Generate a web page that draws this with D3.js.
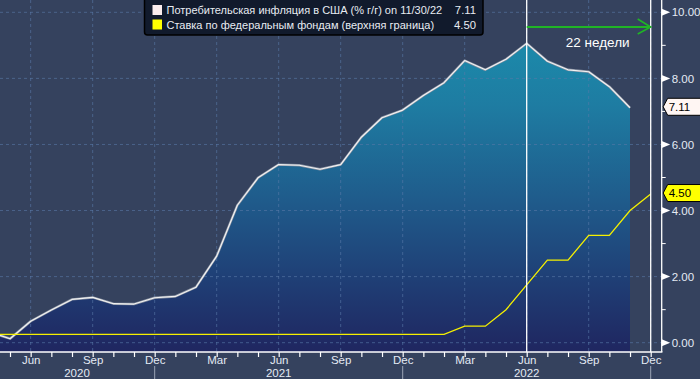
<!DOCTYPE html>
<html><head><meta charset="utf-8">
<script src="https://cdn.jsdelivr.net/npm/d3@7/dist/d3.min.js"></script>
<style>
html,body{margin:0;padding:0;background:#35425e;}
svg{display:block;font-family:"Liberation Sans",Arial,sans-serif;}
</style></head>
<body>
<svg id="c" width="700" height="379"></svg>
<script>
// ---- data ----
// month labels (month-end observations), Apr 2020 .. Dec 2022
const months = ["2020-04","2020-05","2020-06","2020-07","2020-08","2020-09","2020-10","2020-11","2020-12",
  "2021-01","2021-02","2021-03","2021-04","2021-05","2021-06","2021-07","2021-08","2021-09","2021-10","2021-11","2021-12",
  "2022-01","2022-02","2022-03","2022-04","2022-05","2022-06","2022-07","2022-08","2022-09","2022-10","2022-11","2022-12"];
// US CPI YoY %, Apr 2020 .. Nov 2022
const cpi = [0.33,0.12,0.65,0.99,1.31,1.37,1.18,1.17,1.36,
  1.40,1.68,2.62,4.16,4.99,5.39,5.37,5.25,5.39,6.22,6.81,7.04,
  7.48,7.87,8.54,8.26,8.58,9.06,8.52,8.26,8.20,7.75,7.11];
// Fed funds upper bound, Apr 2020 .. Dec 2022
const fed = [0.25,0.25,0.25,0.25,0.25,0.25,0.25,0.25,0.25,
  0.25,0.25,0.25,0.25,0.25,0.25,0.25,0.25,0.25,0.25,0.25,0.25,
  0.25,0.25,0.50,0.50,1.00,1.75,2.50,2.50,3.25,3.25,4.00,4.50];
const yTicks = [0,2,4,6,8,10];
const yMinor = [1,3,5,7,9];
const monthNames = ["Jan","Feb","Mar","Apr","May","Jun","Jul","Aug","Sep","Oct","Nov","Dec"];
const quarterLabels = ["Mar","Jun","Sep","Dec"];
const years = ["2020","2021","2022"];
const legendItems = [
  {label:"Потребительская инфляция в США (% г/г) on 11/30/22", value:"7.11", color:"#fbeded"},
  {label:"Ставка по федеральным фондам (верхняя граница)", value:"4.50", color:"#ffff00"}
];
const markDate = "2022-06", endDate = "2022-12";
const arrowText = "22 недели";

// ---- layout ----
const W=700,H=379, L=0, R=661.7, T=0, B=352;
const mi = s => { const [yy,mm]=s.split("-").map(Number); return (yy-2020)*12 + (mm-1); };
const x = d3.scaleLinear().domain([mi("2020-06"), mi("2022-12")]).range([30.67, 650.7]);
const y = d3.scaleLinear().domain([0,10]).range([342.7,12.3]);

const svg = d3.select("#c");
const defs = svg.append("defs");
const g = defs.append("linearGradient").attr("id","ag").attr("gradientUnits","userSpaceOnUse")
  .attr("x1",0).attr("y1",0).attr("x2",0).attr("y2",B);
[[0,"#1a93b0"],[0.3,"#1e7ca2"],[0.57,"#1f5b8b"],[0.8,"#1f3e75"],[1,"#1f2660"]].forEach(([o,c])=>g.append("stop").attr("offset",o).attr("stop-color",c));
defs.append("clipPath").attr("id","pc").append("rect").attr("x",L).attr("y",T).attr("width",R-L).attr("height",B-T);

svg.append("rect").attr("width",W).attr("height",H).attr("fill","#35425e");

const plot = svg.append("g").attr("clip-path","url(#pc)");
const cpiData = cpi.map((v,i)=>({m:mi(months[i]), v}));
const fedData = fed.map((v,i)=>({m:mi(months[i]), v}));

plot.append("path").datum(cpiData)
  .attr("d", d3.area().x(d=>x(d.m)).y0(B).y1(d=>y(d.v)))
  .attr("fill","url(#ag)");

// grid
const quarterMonths = d3.range(mi("2020-03"), mi("2022-12")+1).filter(m=>m%3===2);
plot.selectAll(".vg").data(quarterMonths).join("line")
  .attr("x1",d=>x(d)).attr("x2",d=>x(d)).attr("y1",T).attr("y2",B)
  .attr("stroke","#5a7aa8").attr("stroke-opacity",0.6).attr("stroke-dasharray","3,3").attr("stroke-width",1);
plot.selectAll(".hg").data(yTicks).join("line")
  .attr("x1",L).attr("x2",R).attr("y1",d=>y(d)).attr("y2",d=>y(d))
  .attr("stroke","#5a7aa8").attr("stroke-opacity",0.6).attr("stroke-dasharray","3,3").attr("stroke-width",1);

// lines
plot.append("path").datum(cpiData)
  .attr("d", d3.line().x(d=>x(d.m)).y(d=>y(d.v)))
  .attr("fill","none").attr("stroke","#8a93a3").attr("stroke-width",2.4).attr("stroke-linejoin","round");
plot.append("path").datum(cpiData)
  .attr("d", d3.line().x(d=>x(d.m)).y(d=>y(d.v)))
  .attr("fill","none").attr("stroke","#f2f2f2").attr("stroke-width",1.2).attr("stroke-linejoin","round");
plot.append("path").datum(fedData)
  .attr("d", d3.line().x(d=>x(d.m)).y(d=>y(d.v)))
  .attr("fill","none").attr("stroke","#f5f000").attr("stroke-width",1.3);

// vertical markers
[markDate,endDate].forEach(s=>{
  svg.append("line").attr("x1",x(mi(s))).attr("x2",x(mi(s))).attr("y1",T).attr("y2",B)
    .attr("stroke","#ffffff").attr("stroke-width",1.3);
});

// arrow
const ay = 27, ax0 = x(mi(markDate)), ax1 = x(mi(endDate));
svg.append("line").attr("x1",ax0).attr("x2",ax1).attr("y1",ay).attr("y2",ay).attr("stroke","#20b426").attr("stroke-width",2);
svg.append("path").attr("d",`M${ax1-13},${ay-8}L${ax1},${ay}L${ax1-13},${ay+7}`)
  .attr("fill","none").attr("stroke","#20b426").attr("stroke-width",1.6);
svg.append("text").attr("x",ax0+71).attr("y",47.3).attr("text-anchor","middle")
  .attr("fill","#ffffff").attr("font-size",13.5).text(arrowText);

// axes lines
svg.append("line").attr("x1",R).attr("x2",R).attr("y1",T).attr("y2",B).attr("stroke","#ffffff").attr("stroke-width",1.3);
svg.append("line").attr("x1",L).attr("x2",R+0.7).attr("y1",B).attr("y2",B).attr("stroke","#ffffff").attr("stroke-width",1.3);

// right axis
const ra = svg.append("g").attr("transform",`translate(${R},0)`)
  .call(d3.axisRight(y).tickValues(yTicks).tickFormat(d3.format(".2f")).tickSize(0).tickPadding(10));
ra.select(".domain").remove();
ra.selectAll("text").attr("fill","#e4eaf4").attr("font-size",11.5).attr("font-family","Liberation Sans, Arial, sans-serif");
svg.selectAll(".tri").data(yTicks).join("path")
  .attr("d",d=>`M${R},${y(d)-3.5}L${R+8.5},${y(d)}L${R},${y(d)+3.5}Z`).attr("fill","#ffffff");
svg.selectAll(".mt").data(yMinor).join("line")
  .attr("x1",R).attr("x2",R+4).attr("y1",d=>y(d)).attr("y2",d=>y(d)).attr("stroke","#ffffff").attr("stroke-width",1);

// value tags
function tag(v, fill){
  const cy = y(v)-1, h=17, x0=R+1.5, x1=R+6, x2=W+2;
  svg.append("path").attr("d",`M${x0},${cy}L${x1},${cy-h/2}L${x2},${cy-h/2}L${x2},${cy+h/2}L${x1},${cy+h/2}Z`)
    .attr("fill",fill).attr("stroke","#000").attr("stroke-width",1);
  svg.append("text").attr("x",R+7).attr("y",cy+4).attr("fill","#000").attr("font-size",11.5).text(d3.format(".2f")(v));
}
tag(cpi[cpi.length-1], "#fff6f3");
tag(fed[fed.length-1], "#ffff00");

// bottom axis
const allMonths = d3.range(mi("2020-05"), mi("2022-12")+1);
const ba = svg.append("g").attr("transform",`translate(0,${B})`)
  .call(d3.axisBottom(x).tickValues(allMonths).tickSize(5)
    .tickFormat(m=>{ const n = monthNames[m%12]; return quarterLabels.includes(n)? n : ""; }));
ba.select(".domain").remove();
ba.selectAll("line").attr("stroke","#ffffff").attr("stroke-width",1.2);
ba.selectAll("text").attr("y",12).attr("dy",null).attr("fill","#e4eaf4").attr("font-size",11.5)
  .attr("font-family","Liberation Sans, Arial, sans-serif");

// year labels and separators
const yearPos = {"2020":77, "2021":x(mi("2021-06")), "2022":x(mi("2022-06"))};
svg.selectAll(".yl").data(years).join("text")
  .attr("x",d=>yearPos[d]).attr("y",377).attr("text-anchor","middle")
  .attr("fill","#e4eaf4").attr("font-size",11.5).text(d=>d);
const seps = ["2020-12","2021-12","2022-12"];
svg.selectAll(".ys").data(seps).join("line")
  .attr("x1",d=>x(mi(d))).attr("x2",d=>x(mi(d))).attr("y1",366).attr("y2",H)
  .attr("stroke","#9aa4b6").attr("stroke-width",1);

// legend
const lg = svg.append("g");
lg.append("rect").attr("x",144.5).attr("y",-5).attr("width",338.5).attr("height",40).attr("rx",3)
  .attr("fill","#111a2c").attr("stroke","#000").attr("stroke-width",1.5);
legendItems.forEach((d,i)=>{
  const cy = 10 + i*14.5;
  lg.append("rect").attr("x",152.5).attr("y",cy-5).attr("width",9.5).attr("height",10).attr("fill",d.color);
  lg.append("text").attr("x",166.5).attr("y",cy+4).attr("fill","#e8ecf2").attr("font-size",11).text(d.label);
  lg.append("text").attr("x",476).attr("y",cy+4).attr("text-anchor","end").attr("fill","#e8ecf2").attr("font-size",11.3).text(d.value);
});
</script>
</body></html>
